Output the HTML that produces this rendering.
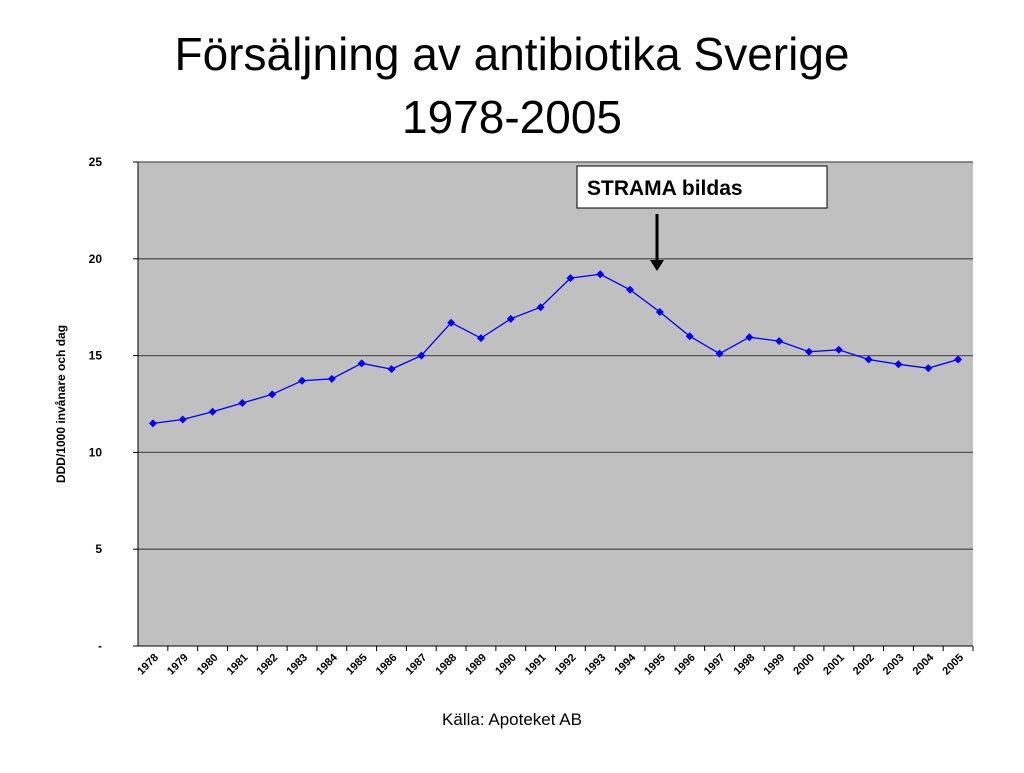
<!DOCTYPE html>
<html><head><meta charset="utf-8"><style>
body{margin:0;background:#fff;width:1024px;height:768px;overflow:hidden;font-family:"Liberation Sans",sans-serif}
</style></head><body>
<svg width="1024" height="768">
<text x="512" y="70" text-anchor="middle" font-size="46">Försäljning av antibiotika Sverige</text>
<text x="512" y="133" text-anchor="middle" font-size="46">1978-2005</text>
<rect x="138" y="162" width="835" height="484" fill="#c0c0c0"/>
<g id="grid"></g>
<g id="axes"></g>
<g id="series"></g>
<text transform="translate(65,404) rotate(-90)" text-anchor="middle" font-size="12" font-weight="bold">DDD/1000 invånare och dag</text>
<rect x="577" y="166" width="250" height="42" fill="#fff" stroke="#000"/>
<text x="587" y="195" font-size="21" font-weight="bold">STRAMA bildas</text>
<line x1="657" y1="214" x2="657" y2="262" stroke="#000" stroke-width="3"/>
<polygon points="650,260 664,260 657,271" fill="#000"/>
<text x="512" y="725" text-anchor="middle" font-size="17">Källa: Apoteket AB</text>
</svg>
<script>
const years=["1978","1979","1980","1981","1982","1983","1984","1985","1986","1987","1988","1989","1990","1991","1992","1993","1994","1995","1996","1997","1998","1999","2000","2001","2002","2003","2004","2005"];
const values=[11.5,11.7,12.1,12.55,13.0,13.7,13.8,14.6,14.3,15.0,16.7,15.9,16.9,17.5,19.0,19.2,18.4,17.25,16.0,15.1,15.95,15.75,15.2,15.3,14.8,14.55,14.35,14.8];
const yTicks=[0,5,10,15,20,25];
const yTickLabels=["-","5","10","15","20","25"];
const X0=138,X1=973,Y0=646,Y1=162,YMAX=25;
const NS="http://www.w3.org/2000/svg";
const bw=(X1-X0)/years.length;
const xs=i=>X0+bw*(i+0.5);
const ys=v=>Y0-(v/YMAX)*(Y0-Y1);
function mk(t,a,p){const e=document.createElementNS(NS,t);for(const k in a)e.setAttribute(k,a[k]);p.appendChild(e);return e;}
const grid=document.getElementById('grid'),axes=document.getElementById('axes'),ser=document.getElementById('series');
yTicks.forEach((v,i)=>{
 const y=ys(v);
 if(v>0){const g=mk('line',{x1:X0,x2:X1,y1:y,y2:y,stroke:'#555','stroke-width':1.3},grid);
 
 }
 const tk=mk('line',{x1:X0-5,x2:X0,y1:y,y2:y,stroke:'#000'},axes);
 
 
 const t=mk('text',{x:X0-36,y:y+4,'text-anchor':'end','font-size':12,'font-weight':'bold'},axes);
 t.textContent=yTickLabels[i];
 
 
});
const ya=mk('line',{x1:X0,x2:X0,y1:Y1,y2:Y0,stroke:'#000'},axes);


const xa=mk('line',{x1:X0,x2:X1,y1:Y0,y2:Y0,stroke:'#000'},axes);


years.forEach((yr,i)=>{
 const xt=X0+bw*(i+1);
 const tk=mk('line',{x1:xt,x2:xt,y1:Y0,y2:Y0+5,stroke:'#000'},axes);
 
 
 const cx=xs(i)+6,cy=Y0+12;
 const t=mk('text',{x:cx,y:cy,'text-anchor':'end','font-size':11,'font-weight':'bold',transform:`rotate(-45 ${cx} ${cy})`},axes);
 t.textContent=yr;
 
 
});
const pl=mk('polyline',{points:values.map((v,i)=>xs(i)+','+ys(v)).join(' '),fill:'none',stroke:'#0000ff','stroke-width':1.3},ser);


values.forEach((v,i)=>{
 const x=xs(i),y=ys(v);
 const d=mk('polygon',{points:`${x},${y-4} ${x+4},${y} ${x},${y+4} ${x-4},${y}`,fill:'#0000ff'},ser);
 
 
});
</script>
</body></html>
